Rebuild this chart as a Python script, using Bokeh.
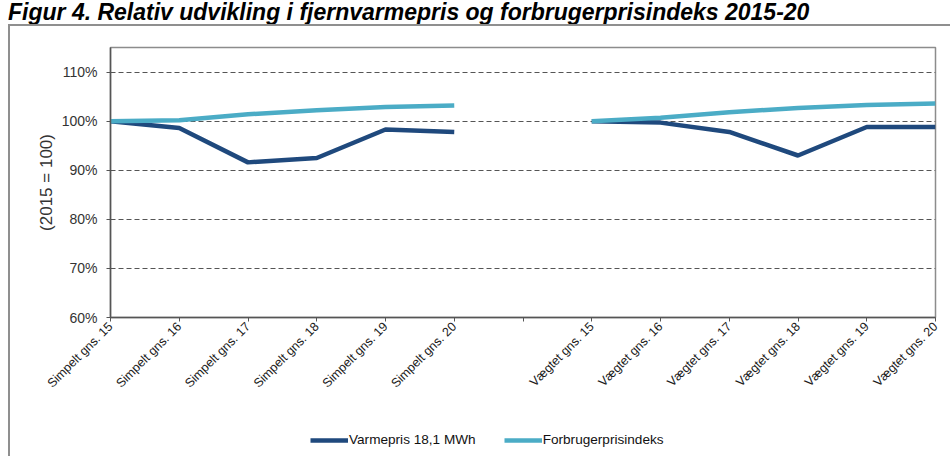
from bokeh.plotting import figure
from bokeh.models import (Range1d, FixedTicker, PrintfTickFormatter, Legend, LegendItem, Div)
from bokeh.layouts import column
from bokeh.embed import file_html
from bokeh.resources import INLINE
import math

# ---- data ----
categories = ["Simpelt gns. 15", "Simpelt gns. 16", "Simpelt gns. 17", "Simpelt gns. 18",
              "Simpelt gns. 19", "Simpelt gns. 20", "",
              "Vægtet gns. 15", "Vægtet gns. 16", "Vægtet gns. 17", "Vægtet gns. 18",
              "Vægtet gns. 19", "Vægtet gns. 20"]
simpel_cats = categories[0:6]
vaegtet_cats = categories[7:13]
simpel_varmepris = [100.0, 98.6, 91.6, 92.5, 98.3, 97.8]
simpel_fpi = [100.0, 100.2, 101.4, 102.2, 102.9, 103.2]
vaegtet_varmepris = [100.0, 99.7, 97.8, 93.0, 98.8, 98.8]
vaegtet_fpi = [100.0, 100.7, 101.8, 102.7, 103.3, 103.6]
y_ticks = [60, 70, 80, 90, 100, 110]
grid_ticks = [70, 80, 90, 100, 110]
title_text = "Figur 4. Relativ udvikling i fjernvarmepris og forbrugerprisindeks 2015-20"
y_title = "(2015 = 100)"
series_names = ["Varmepris 18,1 MWh", "Forbrugerprisindeks"]

DARK = "#1F497D"
LIGHT = "#4BACC6"
FRAME = "#8f8f8f"
FONT = "Liberation Sans"
LW = 4.5

xs_s = [categories.index(c) for c in simpel_cats]
xs_v = [categories.index(c) for c in vaegtet_cats]

p = figure(width=940, height=399, x_range=Range1d(0, len(categories) - 1),
           y_range=Range1d(60, 115), output_backend="svg", toolbar_location=None,
           min_border_left=100, min_border_right=15, min_border_top=21,
           min_border_bottom=108, margin=(2, 0, 0, 2),
           styles={"background-color": "white"})
p.background_fill_color = "white"
p.border_fill_color = "white"
p.outline_line_color = "#8c8c8c"
p.outline_line_width = 1.5

# grid
p.xgrid.visible = False
p.ygrid.ticker = FixedTicker(ticks=grid_ticks)
p.ygrid.grid_line_color = "#555555"
p.ygrid.grid_line_dash = "5 3"
p.ygrid.grid_line_width = 1

# axes
p.yaxis.ticker = FixedTicker(ticks=y_ticks)
p.yaxis.formatter = PrintfTickFormatter(format="%d%%")
p.yaxis.major_label_text_font = FONT
p.yaxis.major_label_text_font_size = "14px"
p.yaxis.major_label_text_color = "#333333"
p.yaxis.major_label_standoff = 9
p.yaxis.axis_label = y_title
p.yaxis.axis_label_text_font = FONT
p.yaxis.axis_label_text_font_size = "17px"
p.yaxis.axis_label_text_font_style = "normal"
p.yaxis.axis_label_text_color = "#333333"
p.yaxis.axis_label_standoff = 3

p.xaxis.ticker = FixedTicker(ticks=list(range(len(categories))))
p.xaxis.major_label_overrides = {i: c for i, c in enumerate(categories)}
p.xaxis.major_label_orientation = math.pi / 4
p.xaxis.major_label_text_font = FONT
p.xaxis.major_label_text_font_size = "12.5px"
p.xaxis.major_label_text_color = "#1a1a1a"
p.xaxis.major_label_standoff = 3

for ax in (p.xaxis, p.yaxis):
    ax.axis_line_color = "#555555"
    ax.axis_line_width = 1.5
    ax.major_tick_line_color = "#555555"
    ax.major_tick_out = 4
    ax.major_tick_in = 0
    ax.minor_tick_line_color = None

# lines
p.line(xs_s, simpel_varmepris, line_color=DARK, line_width=LW)
p.line(xs_v, vaegtet_varmepris, line_color=DARK, line_width=LW)
p.line(xs_s, simpel_fpi, line_color=LIGHT, line_width=LW)
p.line(xs_v, vaegtet_fpi, line_color=LIGHT, line_width=LW)

# legend strip (separate canvas directly under the chart; its frame aligns with the chart's)
lg = figure(width=940, height=31, x_range=Range1d(0, len(categories) - 1),
            y_range=Range1d(0, 1), output_backend="svg", toolbar_location=None,
            x_axis_location=None, y_axis_location=None,
            min_border=0, margin=(0, 0, 0, 2),
            styles={"background-color": "white"})
lg.xgrid.visible = False
lg.ygrid.visible = False
lg.outline_line_color = None
lg.background_fill_color = "white"
lg.border_fill_color = "white"
# key renderers: same series, outside this strip's visible range (only their legend glyphs show)
k1 = lg.line(xs_s, simpel_varmepris, line_color=DARK, line_width=LW)
k2 = lg.line(xs_s, simpel_fpi, line_color=LIGHT, line_width=LW)

legend = Legend(items=[LegendItem(label=series_names[0], renderers=[k1]),
                       LegendItem(label=series_names[1], renderers=[k2])],
                orientation="horizontal", location=(200, 9))
legend.glyph_width = 38
legend.glyph_height = 14
legend.label_height = 14
legend.label_standoff = 1
legend.spacing = 28
legend.padding = 0
legend.margin = 0
legend.border_line_alpha = 0
legend.background_fill_alpha = 0
legend.label_text_font = FONT
legend.label_text_font_size = "13.6px"
legend.label_text_color = "#111111"
lg.add_layout(legend, "center")

title_div = Div(text=title_text, width=930, height=24, margin=(0, 0, 0, 8),
                styles={"font-family": FONT, "font-size": "23px", "font-weight": "bold",
                        "font-style": "italic", "color": "#000000",
                        "white-space": "nowrap", "line-height": "24px"})

framed = column(p, lg, margin=(0, 0, 0, 8), spacing=0,
                styles={"background-color": FRAME})
layout = column(title_div, framed, spacing=0)

open("out.html", "w").write(file_html(layout, INLINE))
